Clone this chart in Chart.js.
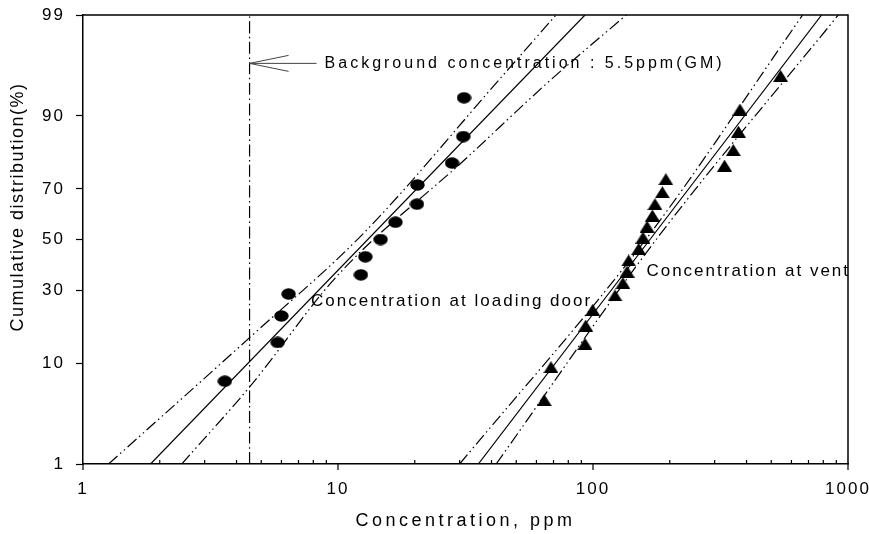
<!DOCTYPE html>
<html>
<head>
<meta charset="utf-8">
<script src="https://cdn.jsdelivr.net/npm/chart.js@4.4.1/dist/chart.umd.min.js"></script>
<style>
  html, body { margin: 0; padding: 0; background: #fff; }
  #wrap { width: 869px; height: 534px; }
</style>
</head>
<body>
<div id="wrap"><canvas id="chart"></canvas></div>
<script>
// Probability plot: concentration (log) vs cumulative distribution (normal probability axis)

const yTicks = [1, 10, 30, 50, 70, 90, 99];
const xTicks = [1, 10, 100, 1000];

// loading door samples (filled ellipses)
const doorConc = [3.6, 5.8, 6.0, 6.4, 12.3, 12.8, 14.7, 16.8, 20.4, 20.5, 28.0, 31.0, 31.2];
const doorCum = [7.1, 14.3, 21.4, 28.6, 35.7, 42.9, 50, 57.1, 64.3, 71.4, 78.6, 85.7, 92.9];

// vent samples (filled triangles)
const ventConc = [64.4, 68.4, 93.0, 93.6, 99.7, 122, 131, 136, 138, 151, 157, 163, 171, 175, 187, 193, 328, 355, 372, 377, 544];
const ventCum = [4.8, 9.3, 14.0, 18.6, 23.3, 28.1, 32.6, 37.0, 41.4, 46.1, 50.8, 55.3, 59.8, 64.3, 68.8, 73.4, 77.8, 82.3, 86.8, 91.1, 95.5];

// fitted lines and confidence bands
const doorFitConc = [1.84, 93.0];
const doorFitCum = [1, 99];
const doorUpConc = [1.26, 4.49, 12.6, 44.5, 71.6];
const doorUpCum = [1, 15.4, 52.6, 95.6, 99];
const doorLoConc = [2.44, 4.52, 9.88, 32.4, 65.8, 135];
const doorLoCum = [1, 6.4, 35.1, 80.5, 94.7, 99];

const ventFitConc = [35.5, 788];
const ventFitCum = [1, 99];
const ventUpConc = [30.0, 161, 664];
const ventUpCum = [1, 50, 99];
const ventLoConc = [41.7, 177, 916];
const ventLoCum = [1, 50, 99];

// background reference line
const bgConc = 4.5;
const bgCum = [1, 99];

const FONT = "'Liberation Sans', Arial, sans-serif";

// inverse normal CDF (Acklam), used for the probability axis
function probit(p) {
  const a = [-39.69683028665376, 220.9460984245205, -275.9285104469687, 138.3577518672690, -30.66479806614716, 2.506628277459239];
  const b = [-54.47609879822406, 161.5858368580409, -155.6989798598866, 66.80131188771972, -13.28068155288572];
  const c = [-0.007784894002430293, -0.3223964580411365, -2.400758277161838, -2.549732539343734, 4.374664141464968, 2.938163982698783];
  const d = [0.007784695709041462, 0.3224671290700398, 2.445134137142996, 3.754408661907416];
  const pl = 0.02425;
  if (p < pl) {
    const q = Math.sqrt(-2 * Math.log(p));
    return (((((c[0]*q+c[1])*q+c[2])*q+c[3])*q+c[4])*q+c[5]) / ((((d[0]*q+d[1])*q+d[2])*q+d[3])*q+1);
  }
  if (p > 1 - pl) {
    const q = Math.sqrt(-2 * Math.log(1 - p));
    return -(((((c[0]*q+c[1])*q+c[2])*q+c[3])*q+c[4])*q+c[5]) / ((((d[0]*q+d[1])*q+d[2])*q+d[3])*q+1);
  }
  const q = p - 0.5, r = q * q;
  return (((((a[0]*r+a[1])*r+a[2])*r+a[3])*r+a[4])*r+a[5])*q / (((((b[0]*r+b[1])*r+b[2])*r+b[3])*r+b[4])*r+1);
}
const z = pct => probit(pct / 100);
const pts = (xs, ys) => xs.map((x, i) => ({ x, y: z(ys[i]) }));

function marker(shape) {
  const cv = document.createElement('canvas');
  cv.width = 15; cv.height = 12;
  const g = cv.getContext('2d');
  g.fillStyle = '#000';
  g.beginPath();
  if (shape === 'ellipse') g.ellipse(7.5, 6, 7.2, 5.8, 0, 0, Math.PI * 2);
  else { g.moveTo(7.5, 0); g.lineTo(15, 12); g.lineTo(0, 12); g.closePath(); }
  g.fill();
  return cv;
}

const BAND_DASH = [12, 3.5, 1.5, 3.5, 1.5, 3.5];
const line = (data, dash) => ({
  data, showLine: true, pointRadius: 0, borderColor: '#000', borderWidth: 1.2,
  borderDash: dash || [], cubicInterpolationMode: 'monotone', fill: false
});

const extras = {
  id: 'extras',
  beforeDraw(chart) {
    chart.ctx.letterSpacing = '2px';
  },
  afterDraw(chart) {
    const { ctx, chartArea: a, scales: { x, y } } = chart;
    ctx.save();
    ctx.letterSpacing = '0px';
    ctx.strokeStyle = '#000';
    // top and right frame
    ctx.lineWidth = 1.5;
    ctx.beginPath();
    ctx.moveTo(a.left, a.top); ctx.lineTo(a.right, a.top); ctx.lineTo(a.right, a.bottom);
    ctx.stroke();
    // x ticks: majors outward, minors inward
    ctx.lineWidth = 1.2;
    ctx.beginPath();
    xTicks.forEach(v => {
      const px = x.getPixelForValue(v);
      ctx.moveTo(px, a.bottom); ctx.lineTo(px, a.bottom + 6);
    });
    for (let d = 1; d < 1000; d *= 10) {
      for (let k = 2; k <= 9; k++) {
        const px = x.getPixelForValue(k * d);
        ctx.moveTo(px, a.bottom); ctx.lineTo(px, a.bottom - 4);
      }
    }
    ctx.stroke();

    // arrow to the background line
    const ax = x.getPixelForValue(bgConc), ay = y.getPixelForValue(z(96.6));
    ctx.strokeStyle = '#444';
    ctx.lineWidth = 1;
    ctx.beginPath();
    ctx.moveTo(ax, ay); ctx.lineTo(ax + 67, ay);
    ctx.moveTo(ax + 39, ay - 8); ctx.lineTo(ax, ay); ctx.lineTo(ax + 39, ay + 8);
    ctx.stroke();

    ctx.fillStyle = '#000';
    ctx.textAlign = 'left';
    ctx.textBaseline = 'middle';
    ctx.font = '16px ' + FONT;
    ctx.letterSpacing = '3px';
    ctx.fillText('Background concentration : 5.5ppm(GM)', ax + 75, ay);
    ctx.font = '17px ' + FONT;
    ctx.letterSpacing = '2px';
    ctx.fillText('Concentration at loading door', x.getPixelForValue(7.84), y.getPixelForValue(z(26)));
    ctx.fillText('Concentration at vent', x.getPixelForValue(162), y.getPixelForValue(z(37)));

    // axis titles
    ctx.textAlign = 'center';
    ctx.font = '18px ' + FONT;
    ctx.letterSpacing = '3.5px';
    ctx.fillText('Concentration, ppm', (a.left + a.right) / 2, 521);
    ctx.letterSpacing = '1.5px';
    ctx.translate(18, 207);
    ctx.rotate(-Math.PI / 2);
    ctx.fillText('Cumulative distribution(%)', 0, 0);
    ctx.restore();
  }
};

new Chart(document.getElementById('chart'), {
  type: 'scatter',
  data: {
    datasets: [
      { label: 'Concentration at loading door', data: pts(doorConc, doorCum), pointStyle: marker('ellipse'), pointRadius: 7 },
      { label: 'Concentration at vent', data: pts(ventConc, ventCum), pointStyle: marker('triangle'), pointRadius: 7 },
      line(pts(doorFitConc, doorFitCum)),
      line(pts(doorUpConc, doorUpCum), BAND_DASH),
      line(pts(doorLoConc, doorLoCum), BAND_DASH),
      line(pts(ventFitConc, ventFitCum)),
      line(pts(ventUpConc, ventUpCum), BAND_DASH),
      line(pts(ventLoConc, ventLoCum), BAND_DASH),
      line(bgCum.map(c => ({ x: bgConc, y: z(c) })), [12, 3.5, 1.5, 3.5])
    ]
  },
  options: {
    responsive: true,
    maintainAspectRatio: false,
    animation: false,
    layout: { padding: { left: 0, right: 21, top: 15, bottom: 0 } },
    plugins: { legend: { display: false }, tooltip: { enabled: false } },
    scales: {
      x: {
        type: 'logarithmic',
        min: 1, max: 1000,
        afterBuildTicks: s => { s.ticks = xTicks.map(v => ({ value: v })); },
        afterFit: s => { s.height = 70; s.paddingLeft = 0; s.paddingRight = 0; },
        grid: { display: false, drawTicks: false },
        border: { display: true, color: '#000', width: 1.5 },
        ticks: {
          autoSkip: false, maxRotation: 0, padding: 15, color: '#000',
          font: { family: FONT, size: 17 },
          callback: (v, i) => String(xTicks[i])
        }
      },
      y: {
        type: 'linear',
        min: z(1), max: z(99),
        afterBuildTicks: s => { s.ticks = yTicks.map(p => ({ value: z(p) })); },
        afterFit: s => { s.width = 83; s.paddingTop = 0; s.paddingBottom = 0; },
        grid: { display: true, drawOnChartArea: false, drawTicks: true, tickLength: 7, tickColor: '#000', tickWidth: 1.2 },
        border: { display: true, color: '#000', width: 1.5 },
        ticks: {
          autoSkip: false, padding: 11, color: '#000',
          font: { family: FONT, size: 17 },
          callback: (v, i) => String(yTicks[i])
        }
      }
    }
  },
  plugins: [extras]
});
</script>
</body>
</html>
